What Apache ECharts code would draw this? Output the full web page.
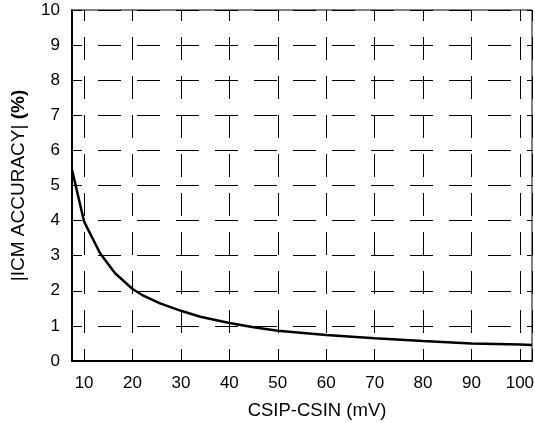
<!DOCTYPE html>
<html>
<head>
<meta charset="utf-8">
<script src="https://cdn.jsdelivr.net/npm/echarts@6/dist/echarts.min.js"></script>
<style>
html,body{margin:0;padding:0;background:#fff;}
#chart{width:535px;height:423px;}
</style>
</head>
<body>
<div id="chart"></div>
<script>
// Data
var xValues = [7.5, 10, 13.3, 16.4, 20, 22, 25.7, 30, 34, 40, 45, 50, 60, 70, 80, 90, 100, 102.5];
var yValues = [5.45, 3.97, 3.07, 2.5, 2.05, 1.88, 1.64, 1.43, 1.26, 1.08, 0.96, 0.86, 0.74, 0.65, 0.57, 0.50, 0.47, 0.455];
var xTickLabels = ['10','20','30','40','50','60','70','80','90','100'];
var yTickLabels = ['0','1','2','3','4','5','6','7','8','9','10'];
var xTitle = 'CSIP-CSIN (mV)';
var yTitleMain = '|ICM ACCURACY| ';
var yTitleUnit = '(%)';

var seriesData = xValues.map(function (x, i) { return [x, yValues[i]]; });
var FONT = 'Liberation Sans, Arial, sans-serif';

var chart = echarts.init(document.getElementById('chart'), null, {renderer: 'canvas'});
chart.setOption({
  animation: false,
  backgroundColor: '#fff',
  grid: {
    left: 72, top: 10, right: 3, bottom: 62,
    containLabel: false, outerBoundsMode: 'none',
    show: true, borderColor: '#000', borderWidth: 1, backgroundColor: 'transparent'
  },
  xAxis: {
    type: 'value', min: 7.5, max: 102.5, splitNumber: 10,
    name: xTitle, nameLocation: 'middle', nameGap: 40,
    nameTextStyle: {fontFamily: FONT, fontSize: 18.5, color: '#000', padding: [0, 0, 0, 30]},
    axisLine: {show: true, onZero: false, lineStyle: {color: '#000', width: 2}},
    axisTick: {show: false},
    axisLabel: {
      margin: 14, fontFamily: FONT, fontSize: 17, color: '#000',
      showMinLabel: true, showMaxLabel: true,
      formatter: function (v) {
        var s = String(Math.round(v));
        return (Math.abs(v % 10) < 1e-6 && xTickLabels.indexOf(s) >= 0) ? s : '';
      }
    },
    splitLine: {show: true, lineStyle: {color: '#000', width: 1, type: [23, 16], dashOffset: 12}}
  },
  yAxis: {
    type: 'value', min: 0, max: 10, interval: 1,
    name: '{a|' + yTitleMain + '}{b|' + yTitleUnit + '}',
    nameLocation: 'middle', nameRotate: 90, nameGap: 44,
    nameTextStyle: {
      fontFamily: FONT, fontSize: 19, color: '#000',
      rich: {
        a: {fontFamily: FONT, fontSize: 19, color: '#000'},
        b: {fontFamily: FONT, fontSize: 19, color: '#000', fontWeight: 'bold'}
      }
    },
    axisLine: {show: true, onZero: false, lineStyle: {color: '#000', width: 2}},
    axisTick: {show: false},
    axisLabel: {
      margin: 12, fontFamily: FONT, fontSize: 17, color: '#000',
      formatter: function (v) { return yTickLabels[Math.round(v)]; }
    },
    splitLine: {show: true, lineStyle: {color: '#000', width: 1, type: [23, 16], dashOffset: 13}}
  },
  series: [{
    type: 'line',
    data: seriesData,
    showSymbol: false,
    symbol: 'none',
    smooth: false,
    lineStyle: {color: '#000', width: 2.5},
    z: 5
  }]
});
</script>
</body>
</html>
